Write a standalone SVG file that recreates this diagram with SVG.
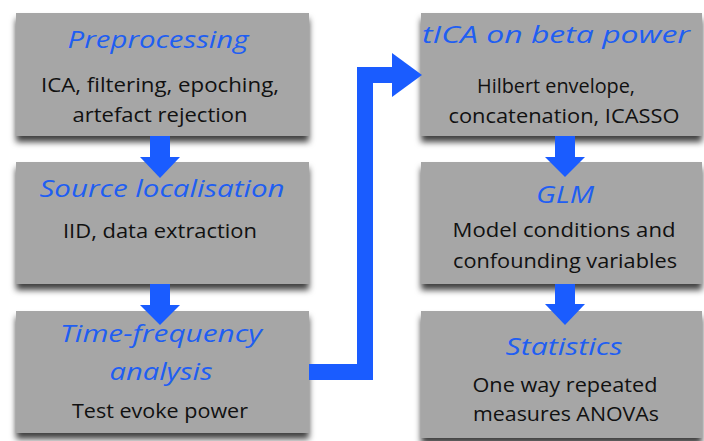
<svg xmlns="http://www.w3.org/2000/svg" width="704" height="441" viewBox="0 0 704 441">
<defs>
<filter id="sh" x="-10%" y="-10%" width="120%" height="130%">
<feDropShadow dx="0" dy="6" stdDeviation="3" flood-color="#000" flood-opacity="0.75"/>
</filter>
<style>
.box{fill:#a6a6a6;filter:url(#sh)}
.t{font-family:"Open Sans","Liberation Sans",sans-serif;font-style:italic;font-size:24px;fill:#1f5ef2;text-anchor:middle}
.b{font-family:"Open Sans","Liberation Sans",sans-serif;font-size:20px;fill:#111;text-anchor:middle}
.ar{fill:#1a5cff}
.ln{fill:none;stroke:#1a5cff;stroke-width:16}
</style>
</defs>
<rect width="704" height="441" fill="#fff"/>
<g id="preprocessing">
<rect class="box" x="16" y="13" width="293" height="123"/>
<text class="t" x="158" y="48" textLength="181" lengthAdjust="spacingAndGlyphs">Preprocessing</text>
<text class="b" x="160" y="92" textLength="238" lengthAdjust="spacingAndGlyphs">ICA, filtering, epoching,</text>
<text class="b" x="160" y="122" textLength="175" lengthAdjust="spacingAndGlyphs">artefact rejection</text>
</g>
<g id="source-localisation">
<rect class="box" x="16" y="162" width="293" height="122"/>
<text class="t" x="162" y="197" textLength="245" lengthAdjust="spacingAndGlyphs">Source localisation</text>
<text class="b" x="160" y="238" textLength="194" lengthAdjust="spacingAndGlyphs">IID, data extraction</text>
</g>
<g id="time-frequency">
<rect class="box" x="16" y="311" width="293" height="122"/>
<text class="t" x="161" y="342" textLength="202" lengthAdjust="spacingAndGlyphs">Time-frequency</text>
<text class="t" x="161" y="380" textLength="103" lengthAdjust="spacingAndGlyphs">analysis</text>
<text class="b" x="160" y="418" textLength="176" lengthAdjust="spacingAndGlyphs">Test evoke power</text>
</g>
<g id="tica">
<rect class="box" x="421" y="13" width="281" height="123"/>
<text class="t" x="556" y="43" textLength="268" lengthAdjust="spacingAndGlyphs">tICA on beta power</text>
<text class="b" x="556" y="93" textLength="158" lengthAdjust="spacingAndGlyphs">Hilbert envelope,</text>
<text class="b" x="564" y="123" textLength="231" lengthAdjust="spacingAndGlyphs">concatenation, ICASSO</text>
</g>
<g id="glm">
<rect class="box" x="421" y="162" width="281" height="122"/>
<text class="t" x="565" y="203" textLength="58" lengthAdjust="spacingAndGlyphs">GLM</text>
<text class="b" x="564" y="237" textLength="223" lengthAdjust="spacingAndGlyphs">Model conditions and</text>
<text class="b" x="565" y="268" textLength="224" lengthAdjust="spacingAndGlyphs">confounding variables</text>
</g>
<g id="statistics">
<rect class="box" x="421" y="311" width="281" height="127"/>
<text class="t" x="564" y="355" textLength="117" lengthAdjust="spacingAndGlyphs">Statistics</text>
<text class="b" x="565" y="392" textLength="185" lengthAdjust="spacingAndGlyphs">One way repeated</text>
<text class="b" x="566" y="421" textLength="186" lengthAdjust="spacingAndGlyphs">measures ANOVAs</text>
</g>
<g id="connectors">
<rect class="ar" x="150" y="136" width="20" height="22"/>
<polygon class="ar" points="140,157 180,157 160,178"/>
<rect class="ar" x="150" y="284" width="20" height="22"/>
<polygon class="ar" points="140,305 180,305 160,325"/>
<rect class="ar" x="555" y="136" width="20" height="22"/>
<polygon class="ar" points="545,157 585,157 565,177"/>
<rect class="ar" x="555" y="284" width="20" height="22"/>
<polygon class="ar" points="545,304 585,304 565,325"/>
<path class="ln" d="M309 372 H365 V75 H393" stroke-linejoin="miter"/>
<polygon class="ar" points="392,53 422,75 392,97"/>
</g>
</svg>
